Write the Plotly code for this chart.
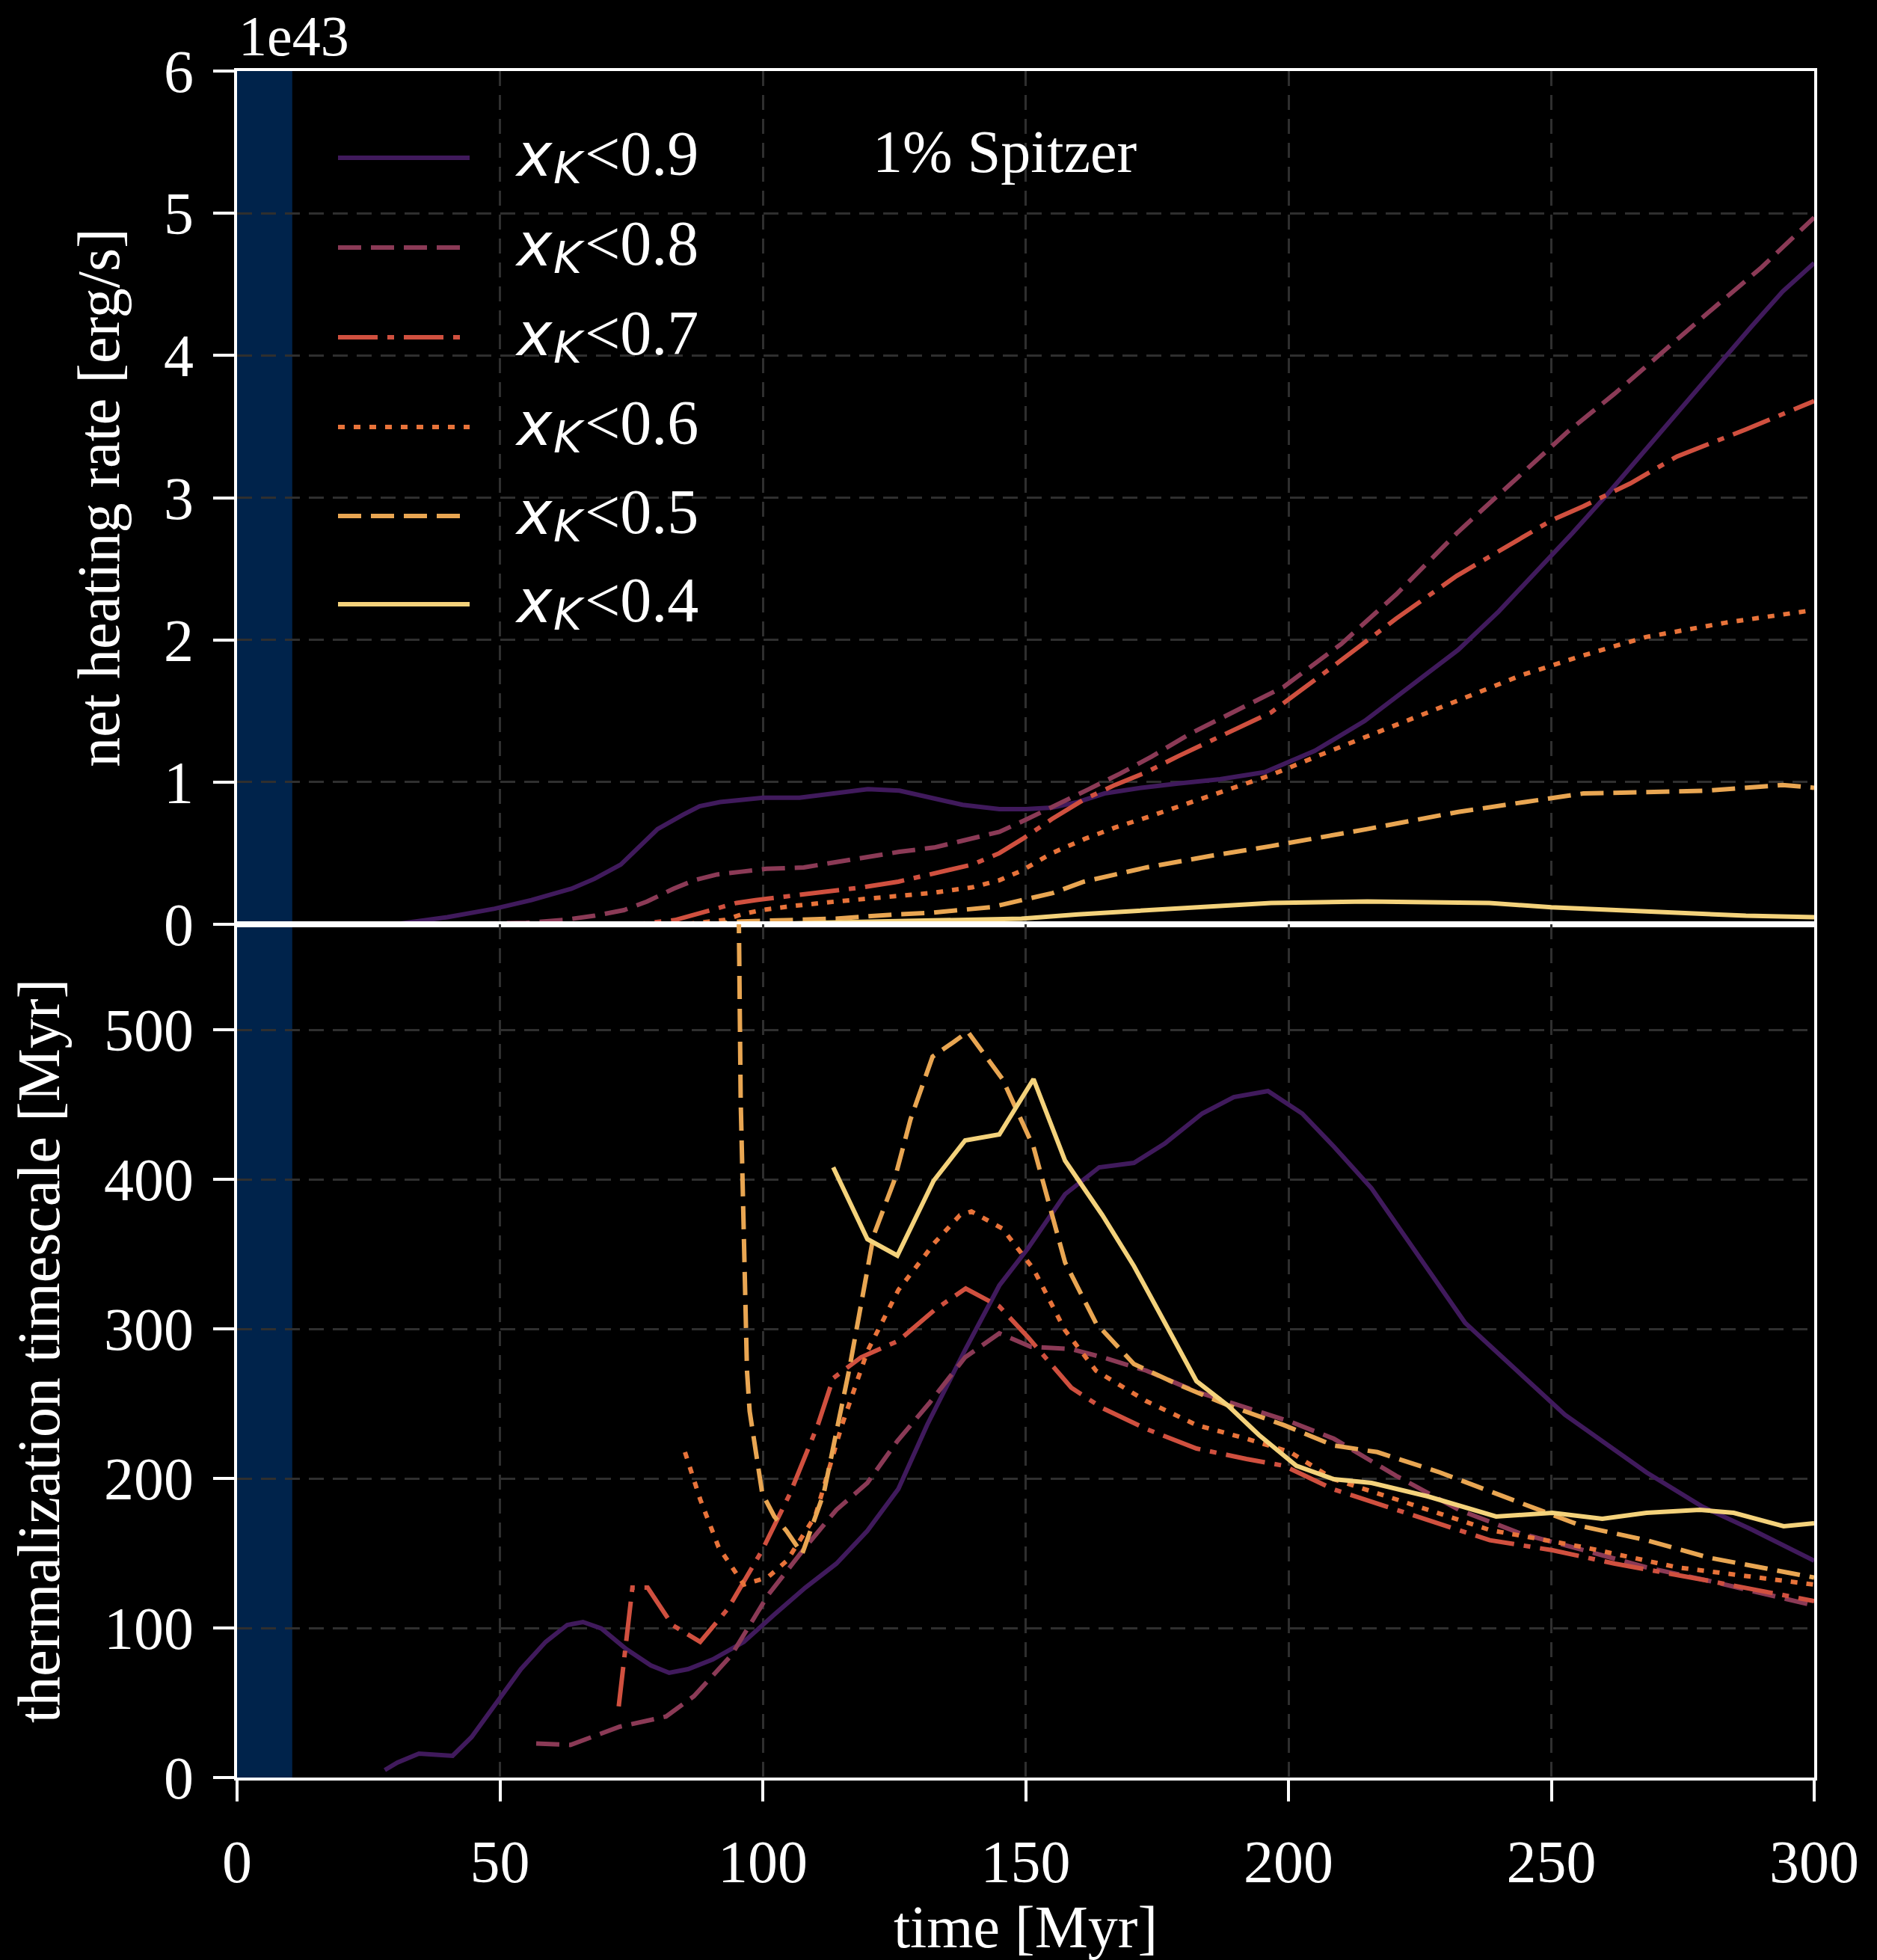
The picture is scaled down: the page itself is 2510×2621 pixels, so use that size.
import plotly.graph_objects as go
from plotly.subplots import make_subplots

# ---------------- data ----------------
labels = ["0.9", "0.8", "0.7", "0.6", "0.5", "0.4"]
colors = ["#401a5c", "#8b3a56", "#d0503f", "#e8733a", "#e9a652", "#f4d27b"]
dashes = ["solid", "31px,13px", "53px,13px,9px,13px", "9px,12px", "31px,13px", "solid"]

# top panel: net heating rate [1e43 erg/s]
t_heat_09 = [20, 30, 34, 40, 49, 56, 63.6, 68, 73, 77, 80, 84.8, 88, 91.9, 100, 107, 114, 120, 126, 132, 138, 145,
             150, 155, 160, 165, 172, 179, 187, 195.5, 205, 214.5, 223, 232.3, 240, 246.7, 254, 260.8, 267, 273.9,
             281, 288, 294, 300]
heat_09 = [0, 0, 0.02, 0.05, 0.11, 0.17, 0.25, 0.32, 0.42, 0.56, 0.67, 0.77, 0.83, 0.86, 0.89, 0.89, 0.92, 0.95,
           0.94, 0.89, 0.84, 0.81, 0.81, 0.82, 0.86, 0.92, 0.96, 0.99, 1.02, 1.07, 1.22, 1.43, 1.67, 1.93, 2.2,
           2.46, 2.75, 3.03, 3.3, 3.6, 3.9, 4.2, 4.45, 4.65]

t_heat_08 = [20, 40, 55, 62, 68, 73.6, 78, 83, 87, 91.3, 96, 100.7, 107.8, 114, 120.8, 126, 132.6, 139.7, 145,
             150.3, 156, 162, 168, 174, 181.3, 190, 199.1, 210, 220.5, 232, 244.2, 253, 262, 271, 279.8, 290, 300]
heat_08 = [0, 0, 0.01, 0.03, 0.06, 0.10, 0.16, 0.25, 0.31, 0.35, 0.37, 0.39, 0.40, 0.44, 0.48, 0.51, 0.54, 0.60,
           0.65, 0.74, 0.84, 0.95, 1.06, 1.18, 1.34, 1.50, 1.67, 1.97, 2.32, 2.75, 3.16, 3.46, 3.73, 4.02, 4.30,
           4.62, 4.97]

t_heat_07 = [20, 60, 76, 83.3, 87, 91.5, 95, 98.6, 105, 112.8, 119, 125.8, 132, 139.9, 145, 149.4, 155, 161.2, 167,
             173, 178.9, 187, 196.7, 208, 220.5, 232, 244.2, 250, 256.1, 265, 273.9, 287, 300]
heat_07 = [0, 0, 0, 0.03, 0.07, 0.12, 0.15, 0.17, 0.20, 0.23, 0.26, 0.30, 0.35, 0.42, 0.50, 0.60, 0.74, 0.88, 0.98,
           1.07, 1.18, 1.32, 1.49, 1.80, 2.15, 2.45, 2.72, 2.84, 2.94, 3.10, 3.29, 3.48, 3.68]

t_heat_06 = [20, 85, 92.7, 96, 99.8, 106, 113.9, 120, 125.8, 132, 139.9, 145, 149.4, 155, 161.2, 167, 172.9, 185,
             196.7, 208, 220.5, 232, 244.2, 256, 268, 283, 300]
heat_06 = [0, 0, 0.03, 0.07, 0.10, 0.13, 0.16, 0.18, 0.20, 0.22, 0.26, 0.31, 0.38, 0.50, 0.60, 0.68, 0.75, 0.90,
           1.05, 1.22, 1.40, 1.57, 1.75, 1.89, 2.02, 2.12, 2.21]

t_heat_05 = [20, 90, 96, 105, 113.9, 125.4, 131.6, 143.4, 149.2, 155.2, 161.1, 173, 185, 196.7, 215, 232.3, 245,
             256.1, 268, 279.8, 294, 300]
heat_05 = [0, 0, 0.02, 0.03, 0.04, 0.07, 0.08, 0.12, 0.17, 0.22, 0.30, 0.40, 0.48, 0.55, 0.67, 0.79, 0.86, 0.92,
           0.93, 0.94, 0.98, 0.96]

t_heat_04 = [20, 100, 110, 125.4, 137, 149.2, 160, 172.9, 185, 196.7, 215, 238.2, 250, 262, 273.9, 287, 300]
heat_04 = [0, 0, 0.01, 0.02, 0.025, 0.04, 0.07, 0.10, 0.13, 0.15, 0.16, 0.15, 0.12, 0.10, 0.08, 0.06, 0.05]

# bottom panel: thermalization timescale [Myr]
t_th_09 = [28.1, 30.5, 34.6, 37.5, 41, 44.6, 49.3, 54, 58.7, 62.8, 65.8, 69.3, 74, 78.7, 82.2, 85.8, 90.5, 96.4,
           102.2, 108.1, 114, 119.9, 125.8, 131.3, 138.5, 145, 150.4, 157.5, 164, 170.6, 176.5, 183.6, 189.6,
           196.1, 202.6, 208.6, 215.8, 222.9, 233.6, 240.7, 252.6, 268.1, 278.8, 288.3, 300]
th_09 = [5, 10, 16, 15, 14.5, 27, 50, 72.5, 90.7, 102, 104, 99.7, 86, 75, 70, 72.5, 79, 90.7, 109, 127, 143, 165,
         193, 236, 286, 329, 353.6, 390, 408, 411, 424, 444, 455, 459, 444, 422, 394, 358, 304, 281, 242.5, 204,
         181, 165.5, 145]

t_th_08 = [56.9, 63.4, 72.8, 81.6, 86.9, 94, 101, 108.1, 114, 119.9, 125.6, 131.6, 138.5, 145, 151, 158.7, 164.6,
           173, 182.5, 192, 200.3, 208.6, 220.5, 232.4, 244.3, 256.2, 268.1, 280, 300]
th_08 = [22.7, 21.8, 34, 40.8, 54.4, 81.6, 122, 154, 179, 197, 225, 250, 281, 297, 288, 286.5, 281, 272, 258, 247,
         238, 226.6, 201.7, 179, 163, 152, 140.5, 131.5, 115]

t_th_07 = [72.6, 75.2, 78.1, 82.8, 88.1, 93.4, 99.9, 105.2, 110.5, 113.4, 118.7, 125.8, 132.8, 138.6, 145, 150.4,
           158.7, 164.6, 173, 182.5, 192, 199.1, 208.6, 220.5, 238.3, 250.2, 262.1, 280, 300]
th_07 = [47.6, 127, 127, 102, 90.7, 113, 152, 190, 236, 267, 281, 292, 313, 327, 315, 294.6, 260.6, 247, 233, 220,
         213, 208.5, 192.7, 179, 158.7, 152, 143, 131.5, 118]

t_th_06 = [85.2, 88.1, 91.6, 96.4, 101, 104.6, 110, 115, 119.9, 125.8, 132.8, 137.5, 139.7, 145.6, 151.5, 157.5,
           163.4, 173, 182.5, 192, 200.3, 208.6, 220.5, 238.3, 256.2, 274, 300]
th_06 = [217.6, 186, 154, 129, 134, 145, 175, 235, 285, 326, 358, 376, 378.5, 367, 340, 299, 272, 251.6, 235.7,
         226.6, 217.6, 199.5, 186, 165.5, 154, 140.5, 129]

t_th_05 = [94.8, 95.8, 97, 97.5, 99.9, 102.2, 104.5, 107.5, 111.6, 116.4, 121.1, 125, 128.1, 132.3, 136.4, 139,
           145.6, 151.5, 157.5, 163.4, 170.6, 178.9, 188.4, 199.1, 208.6, 216.9, 228.8, 244.3, 256.2, 268.1, 280,
           300]
th_05 = [800, 453, 272, 245, 190, 174.5, 165, 149.6, 190, 272, 362.6, 399, 440, 482, 492, 498.6, 467, 421.6,
         344.5, 303.7, 276.5, 263, 249, 235.7, 222, 217.6, 204, 183.6, 167.7, 158.7, 147, 133.7]

t_th_04 = [113.4, 119.9, 125.6, 132.5, 138.5, 145, 151.5, 157.5, 164.6, 170.6, 176.5, 182.5, 188.4, 194.4, 201.5,
           208.6, 215.8, 226.5, 239.5, 250.2, 259.7, 268.1, 278.2, 284.7, 294.2, 300]
th_04 = [408, 360, 349, 399, 426, 430, 467, 412.5, 376, 342, 304, 265, 249, 229, 208.5, 199.5, 197, 188, 174.5,
         177, 173, 177, 179, 177, 168, 170]

x_ticks = [0, 50, 100, 150, 200, 250, 300]
heat_ticks = [0, 1, 2, 3, 4, 5, 6]
th_ticks = [0, 100, 200, 300, 400, 500]
band_range = [0, 10.5]

heat_t = [t_heat_09, t_heat_08, t_heat_07, t_heat_06, t_heat_05, t_heat_04]
heat_v = [heat_09, heat_08, heat_07, heat_06, heat_05, heat_04]
th_t = [t_th_09, t_th_08, t_th_07, t_th_06, t_th_05, t_th_04]
th_v = [th_09, th_08, th_07, th_06, th_05, th_04]

# ---------------- figure ----------------
W, H = 2510, 2621
ML, MR, MT, MB = 317, 84, 95, 244
SERIF = "Liberation Serif"
SANS = "DejaVu Sans"
FS = 80
LEG_FS = 84
LW = 6

fig = make_subplots(rows=2, cols=1, shared_xaxes=True, vertical_spacing=0)

for i in range(6):
    name = "x_K<" + labels[i]
    fig.add_trace(go.Scatter(x=heat_t[i], y=heat_v[i], mode="lines", name=name, showlegend=False,
                             line=dict(color=colors[i], width=LW, dash=dashes[i])), row=1, col=1)
    fig.add_trace(go.Scatter(x=th_t[i], y=th_v[i], mode="lines", name=name, showlegend=False,
                             line=dict(color=colors[i], width=LW, dash=dashes[i])), row=2, col=1)

axis_common = dict(
    showline=True, linecolor="white", linewidth=4, mirror=True,
    showgrid=True, gridcolor="#2f2f2f", gridwidth=3, griddash="20px,12px",
    zeroline=False,
    tickfont=dict(family=SERIF, size=FS, color="white"),
    tickcolor="white", tickwidth=4, ticklen=28,
)

fig.update_xaxes(range=[0, 300], tickvals=x_ticks, **axis_common)
fig.update_xaxes(row=1, col=1, ticks="", showticklabels=False)
fig.update_xaxes(row=2, col=1, ticks="outside", ticklabelstandoff=12,
                 title=dict(text="time [Myr]", font=dict(family=SERIF, size=FS, color="white"), standoff=18))
fig.update_yaxes(row=1, col=1, range=[0, 6], tickvals=heat_ticks, ticks="outside", ticklabelstandoff=10,
                 title=dict(text="net heating rate [erg/s]", font=dict(family=SERIF, size=FS, color="white"),
                            standoff=34), **axis_common)
fig.update_yaxes(row=2, col=1, range=[0, 570.5], tickvals=th_ticks, ticks="outside", ticklabelstandoff=10,
                 title=dict(text="thermalization timescale [Myr]", font=dict(family=SERIF, size=FS, color="white"),
                            standoff=34), **axis_common)

# shaded early-time band spanning both panels
fig.add_shape(type="rect", xref="x", yref="paper", x0=band_range[0], x1=band_range[1], y0=0, y1=1,
              fillcolor="#00234b", line=dict(width=0), layer="below")

# manual legend (long line samples like the reference)
PW = W - ML - MR
PH = H - MT - MB
def px_to_paper(px, py):
    return (px - ML) / PW, (H - MB - py) / PH

leg_rows_py = [211, 331, 451, 571, 690, 808]
for i in range(6):
    x0p, yp = px_to_paper(452, leg_rows_py[i])
    x1p, _ = px_to_paper(628, leg_rows_py[i])
    fig.add_shape(type="line", xref="paper", yref="paper", x0=x0p, x1=x1p, y0=yp, y1=yp,
                  line=dict(color=colors[i], width=LW, dash=dashes[i]))
    # "x" (math italic, sans)
    xa, _ = px_to_paper(688, leg_rows_py[i])
    fig.add_annotation(xref="paper", yref="paper", x=xa, y=yp, xanchor="left", yanchor="middle",
                       showarrow=False, text="x", yshift=4, borderpad=0, borderwidth=0,
                       font=dict(family=SANS, size=80, style="italic", color="white"))
    # subscript "K"
    xk, _ = px_to_paper(740, leg_rows_py[i])
    fig.add_annotation(xref="paper", yref="paper", x=xk, y=yp, xanchor="left", yanchor="middle",
                       showarrow=False, text="K", yshift=-14, borderpad=0, borderwidth=0,
                       font=dict(family=SANS, size=58, style="italic", color="white"))
    # "<0.9" etc.
    xl, _ = px_to_paper(782, leg_rows_py[i])
    fig.add_annotation(xref="paper", yref="paper", x=xl, y=yp, xanchor="left", yanchor="middle",
                       showarrow=False, text="&lt;" + labels[i], yshift=6, borderpad=0, borderwidth=0,
                       font=dict(family=SERIF, size=LEG_FS, color="white"))

fig.add_annotation(xref="x", yref="y", x=120.6, y=5.43, xanchor="left", yanchor="middle", showarrow=False,
                   text="1% Spitzer", font=dict(family=SERIF, size=FS, color="white"))
ex, ey = px_to_paper(317, 48)
fig.add_annotation(xref="paper", yref="paper", x=ex, y=ey, xanchor="left", yanchor="middle",
                   showarrow=False, text="1e43", font=dict(family=SERIF, size=76, color="white"))

fig.update_layout(
    width=W, height=H,
    margin=dict(l=ML, r=MR, t=MT, b=MB),
    paper_bgcolor="black", plot_bgcolor="rgba(0,0,0,0)",
    showlegend=False,
)

fig.write_html("out.html")
